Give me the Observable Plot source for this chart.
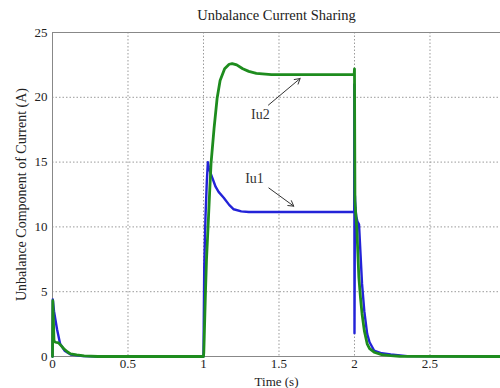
<!DOCTYPE html>
<html><head><meta charset="utf-8">
<script src="https://cdn.jsdelivr.net/npm/d3@7"></script>
<script src="https://cdn.jsdelivr.net/npm/@observablehq/plot@0.6"></script>
<style>body{margin:0;background:#fff}</style>
</head><body><div id="chart"></div>
<script>
// Iu1 (blue) — time (s) and current (A)
const t1  = [0, 0.002, 0.01, 0.02, 0.03, 0.05, 0.08, 0.12, 0.2, 0.3,
             1.0, 1.002, 1.005, 1.013, 1.022, 1.029, 1.035, 1.045, 1.058, 1.08, 1.1, 1.134, 1.17, 1.2, 1.25, 1.3, 1.5, 1.8, 1.998,
             1.999, 2.0, 2.003, 2.006, 2.012, 2.02, 2.03, 2.04, 2.05, 2.065, 2.084, 2.1, 2.13, 2.18, 2.24, 2.35, 2.97];
const iu1 = [0, 4.4, 3.5, 2.8, 2.1, 1.0, 0.45, 0.15, 0.03, 0,
             0, 3, 6.9, 10.7, 13.5, 15.0, 14.6, 14.2, 13.8, 13.1, 12.7, 12.25, 11.7, 11.36, 11.2, 11.15, 11.15, 11.15, 11.15,
             21, 1.8, 12.4, 11.5, 10.8, 10.4, 10.2, 7.9, 5.6, 3.5, 1.75, 1.1, 0.46, 0.25, 0.15, 0.03, 0];
// Iu2 (green)
const t2  = [0, 0.002, 0.01, 0.02, 0.04, 0.06, 0.075, 0.1, 0.12, 0.16, 0.21, 0.3,
             1.0, 1.002, 1.005, 1.013, 1.02, 1.03, 1.04, 1.05, 1.07, 1.09, 1.11, 1.14, 1.17, 1.19, 1.22, 1.26, 1.3, 1.35, 1.45, 1.8, 1.998,
             2.0, 2.003, 2.008, 2.015, 2.029, 2.04, 2.05, 2.065, 2.084, 2.1, 2.13, 2.18, 2.24, 2.3, 2.97];
const iu2 = [0, 4.3, 1.2, 1.1, 1.05, 0.8, 0.6, 0.35, 0.2, 0.12, 0.05, 0,
             0, 0.3, 1.5, 4.95, 7.5, 9.95, 12.5, 14.9, 17.6, 19.9, 21.3, 22.2, 22.55, 22.6, 22.5, 22.2, 22.0, 21.85, 21.75, 21.75, 21.75,
             22.2, 12, 11, 10, 6.1, 4.5, 3.3, 2.0, 0.98, 0.6, 0.33, 0.15, 0.06, 0.02, 0];

const xTicks = [0, 0.5, 1, 1.5, 2, 2.5];
const yTicks = [0, 5, 10, 15, 20, 25];

// annotations
const annLabel = ["Iu1", "Iu2"];
const annT = [1.338, 1.377];
const annV = [13.7, 18.7];
const arrT1 = [1.433, 1.43], arrV1 = [13.0, 19.4];
const arrT2 = [1.598, 1.64], arrV2 = [11.6, 21.45];

const blue = t1.map((t, i) => ({t, v: iu1[i]}));
const green = t2.map((t, i) => ({t, v: iu2[i]}));
const anns = annLabel.map((s, i) => ({s, t: annT[i], v: annV[i]}));
const arrows = arrT1.map((_, i) => ({x1: arrT1[i], y1: arrV1[i], x2: arrT2[i], y2: arrV2[i]}));

const grid = {stroke: "#9a9a9a", strokeOpacity: 1, strokeDasharray: "1.5,2"};
const chart = Plot.plot({
  width: 500, height: 388,
  marginLeft: 52, marginRight: 0, marginTop: 32, marginBottom: 32,
  style: {fontFamily: "'Liberation Serif', 'Times New Roman', serif", fontSize: "13px", background: "#fff", color: "#222"},
  x: {domain: [0, 2.967]},
  y: {domain: [0, 25]},
  marks: [
    Plot.gridX(xTicks, grid),
    Plot.gridY(yTicks, grid),
    Plot.ruleY([25], {stroke: "#888"}),
    Plot.ruleY([0], {stroke: "#888"}),
    Plot.ruleX([0], {stroke: "#888"}),
    Plot.line(blue, {x: "t", y: "v", stroke: "#2323d8", strokeWidth: 2.4}),
    Plot.line(green, {x: "t", y: "v", stroke: "#1e8c1e", strokeWidth: 2.8}),
    Plot.arrow(arrows, {x1: "x1", y1: "y1", x2: "x2", y2: "y2", stroke: "#333", strokeWidth: 1, headLength: 9}),
    Plot.text(anns, {x: "t", y: "v", text: "s", fontSize: 14, fill: "#333"}),
    Plot.axisX(xTicks, {tickSize: 0, tickPadding: 2, tickFormat: d => String(d), fontSize: 13,
      label: "Time (s)", labelAnchor: "center", labelOffset: 29, labelArrow: "none"}),
    Plot.axisY(yTicks, {tickSize: 0, tickPadding: 5, fontSize: 13,
      label: "Unbalance Component of Current (A)", labelAnchor: "center", labelOffset: 36, labelArrow: "none"}),
    Plot.text(["Unbalance Current Sharing"], {frameAnchor: "top", lineAnchor: "middle", dy: -17, fontSize: 14.5, fill: "#222"})
  ]
});
chart.querySelectorAll("g[aria-label='y-axis label'] text").forEach(t => t.setAttribute("font-size", 14));
document.getElementById("chart").append(chart);
</script>
</body></html>
